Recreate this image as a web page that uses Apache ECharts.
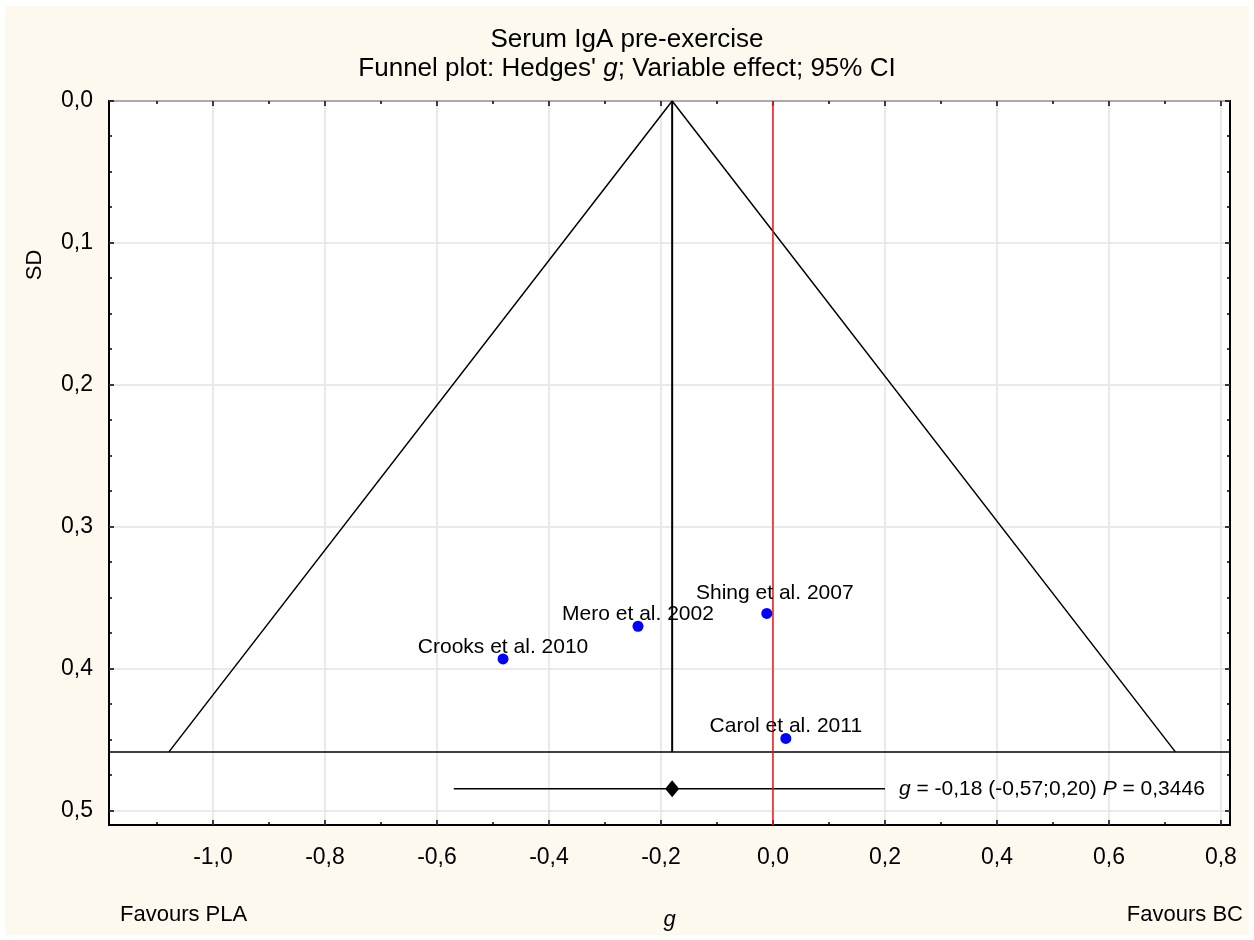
<!DOCTYPE html>
<html>
<head>
<meta charset="utf-8">
<title>Serum IgA pre-exercise – funnel plot</title>
<script src="https://cdn.jsdelivr.net/npm/echarts@6/dist/echarts.min.js"></script>
<style>
  html, body { margin: 0; padding: 0; background: #ffffff; }
  #chart { width: 1254px; height: 940px; }
</style>
</head>
<body>
<div id="chart"></div>
<script>
// Individual studies: effect size (Hedges' g) and its standard error
const studies  = ['Crooks et al. 2010', 'Mero et al. 2002', 'Shing et al. 2007', 'Carol et al. 2011'];
const hedgesG  = [-0.482, -0.241, -0.011, 0.023];
const stdErr   = [0.393, 0.370, 0.361, 0.449];

// Pooled (random-effects) estimate
const pooledG  = -0.18;
const pooledCI = [-0.57, 0.20];
const pooledP  = 0.3446;

// Funnel depth and the row where the pooled estimate is drawn
const funnelSE   = 0.4585;
const summaryRow = 0.4845;

// Axis extents and tick values
const xRange      = [-1.1857, 0.8162];
const yRange      = [0, 0.51];
const xTicksMajor = [-1.0, -0.8, -0.6, -0.4, -0.2, 0.0, 0.2, 0.4, 0.6, 0.8];
const xTicksMinor = [-1.1, -0.9, -0.7, -0.5, -0.3, -0.1, 0.1, 0.3, 0.5, 0.7];
const yTicksMajor = [0.0, 0.1, 0.2, 0.3, 0.4, 0.5];
const yTicksMinor = [0.025, 0.05, 0.075, 0.125, 0.15, 0.175, 0.225, 0.25, 0.275,
                     0.325, 0.35, 0.375, 0.425, 0.45, 0.475];

const FONT = "'Liberation Sans', Arial, sans-serif";
const Z95 = 1.96;

const fmt = (v, d) => v.toFixed(d).replace('.', ',');

// Label nudges so neighbouring study names do not collide
const labelNudge = { 'Shing et al. 2007': [8, -20] };

const chart = echarts.init(document.getElementById('chart'), null, { renderer: 'canvas' });

// Grid lines and inward tick marks on all four sides of the plot box
function renderFrame(params, api) {
  const cs = params.coordSys;
  const left = cs.x, top = cs.y, right = cs.x + cs.width, bottom = cs.y + cs.height;
  const children = [];
  const gridStyle = { stroke: '#e3e3e3', lineWidth: 1.5 };
  const tickStyle = { stroke: '#000000', lineWidth: 1.5 };
  const seg = (x1, y1, x2, y2, style) =>
    children.push({ type: 'line', shape: { x1, y1, x2, y2 }, style });

  xTicksMajor.forEach(v => {
    const x = Math.round(api.coord([v, 0])[0]);
    seg(x, top, x, bottom, gridStyle);
  });
  yTicksMajor.forEach(v => {
    const y = Math.round(api.coord([0, v])[1]);
    seg(left, y, right, y, gridStyle);
  });
  xTicksMajor.forEach(v => {
    const x = Math.round(api.coord([v, 0])[0]);
    seg(x, top, x, top + 5, tickStyle);
    seg(x, bottom, x, bottom - 5, tickStyle);
  });
  xTicksMinor.forEach(v => {
    const x = Math.round(api.coord([v, 0])[0]);
    seg(x, top, x, top + 3, tickStyle);
    seg(x, bottom, x, bottom - 3, tickStyle);
  });
  yTicksMajor.forEach(v => {
    const y = Math.round(api.coord([0, v])[1]);
    seg(left, y, left + 5, y, tickStyle);
    seg(right, y, right - 5, y, tickStyle);
  });
  yTicksMinor.forEach(v => {
    const y = Math.round(api.coord([0, v])[1]);
    seg(left, y, left + 3, y, tickStyle);
    seg(right, y, right - 3, y, tickStyle);
  });
  return { type: 'group', children };
}

const studyPoints = studies.map((name, i) => ({
  name,
  value: [hedgesG[i], stdErr[i]],
  label: { offset: labelNudge[name] || [0, -12] }
}));

const funnelHalf = Z95 * funnelSE;

const option = {
  backgroundColor: '#ffffff',
  animation: false,
  textStyle: { fontFamily: FONT },
  title: {
    left: 'center',
    top: 25,
    padding: 0,
    text: "{t|Serum IgA pre-exercise}\n{t|Funnel plot: Hedges' }{ti|g}{t|; Variable effect; 95% CI}",
    textStyle: {
      fontWeight: 'normal',
      rich: {
        t:  { fontFamily: FONT, fontSize: 26, color: '#000', lineHeight: 29, fontWeight: 'normal' },
        ti: { fontFamily: FONT, fontSize: 26, color: '#000', lineHeight: 29, fontWeight: 'normal', fontStyle: 'italic' }
      }
    }
  },
  graphic: [
    {
      type: 'rect', z: -10, silent: true,
      shape: { x: 5, y: 6, width: 1244, height: 929 },
      style: { fill: '#fdf9ee' }
    },
    {
      type: 'text', silent: true, x: 35, y: 265, rotation: Math.PI / 2,
      style: { text: 'SD', font: "22px 'Liberation Sans', Arial, sans-serif",
               fill: '#000', align: 'center', verticalAlign: 'middle' }
    },
    {
      type: 'text', silent: true, x: 120, y: 915,
      style: { text: 'Favours PLA', font: "22px 'Liberation Sans', Arial, sans-serif",
               fill: '#000', align: 'left', verticalAlign: 'middle' }
    },
    {
      type: 'text', silent: true, x: 1243, y: 915,
      style: { text: 'Favours BC', font: "22px 'Liberation Sans', Arial, sans-serif",
               fill: '#000', align: 'right', verticalAlign: 'middle' }
    }
  ],
  grid: {
    left: 109, top: 101, right: 24, bottom: 115,
    show: true, backgroundColor: '#ffffff', borderColor: '#000000', borderWidth: 2
  },
  xAxis: {
    type: 'value',
    min: xRange[0], max: xRange[1],
    name: 'g',
    nameLocation: 'middle',
    nameGap: 84,
    nameTextStyle: { fontFamily: FONT, fontSize: 22, fontStyle: 'italic', color: '#000' },
    axisLine: { show: false },
    axisTick: { show: false },
    splitLine: { show: false },
    axisLabel: {
      customValues: xTicksMajor,
      formatter: v => fmt(v, 1),
      fontFamily: FONT, fontSize: 23, color: '#000', margin: 21
    }
  },
  yAxis: {
    type: 'value',
    inverse: true,
    min: yRange[0], max: yRange[1],
    axisLine: { show: false },
    axisTick: { show: false },
    splitLine: { show: false },
    axisLabel: {
      customValues: yTicksMajor,
      formatter: v => fmt(v, 1),
      fontFamily: FONT, fontSize: 23, color: '#000', margin: 16
    }
  },
  series: [
    {
      type: 'custom', name: 'frame', silent: true, z: 1,
      coordinateSystem: 'cartesian2d',
      renderItem: renderFrame,
      data: [[0, 0]]
    },
    {
      type: 'line', name: 'funnel', z: 3, silent: true,
      showSymbol: false, symbol: 'none',
      lineStyle: { color: '#000', width: 1.5 },
      data: [[pooledG - funnelHalf, funnelSE], [pooledG, 0], [pooledG + funnelHalf, funnelSE]]
    },
    {
      type: 'line', name: 'pooled', z: 3, silent: true, symbol: 'none',
      lineStyle: { color: '#000', width: 2 },
      data: [[pooledG, 0], [pooledG, funnelSE]]
    },
    {
      type: 'line', name: 'base', z: 3, silent: true, symbol: 'none',
      lineStyle: { color: '#000', width: 1.5 },
      data: [[xRange[0], funnelSE], [xRange[1], funnelSE]]
    },
    {
      type: 'line', name: 'no effect', z: 4, silent: true, symbol: 'none',
      lineStyle: { color: '#f01818', width: 1.5 },
      data: [[0, yRange[0]], [0, yRange[1]]]
    },
    {
      type: 'line', name: 'pooled CI', z: 3, silent: true, symbol: 'none',
      lineStyle: { color: '#000', width: 1.5 },
      data: [[pooledCI[0], summaryRow], [pooledCI[1], summaryRow]]
    },
    {
      type: 'scatter', name: 'pooled estimate', z: 5, silent: true,
      symbol: 'diamond', symbolSize: [14, 17],
      itemStyle: { color: '#000', opacity: 1 },
      data: [[pooledG, summaryRow]]
    },
    {
      type: 'scatter', name: 'summary text', z: 5, silent: true,
      symbolSize: 0,
      itemStyle: { opacity: 1 },
      data: [[pooledCI[1], summaryRow]],
      label: {
        show: true, position: 'right', distance: 14,
        formatter: () => `{i|g}{n| = ${fmt(pooledG, 2)} (${fmt(pooledCI[0], 2)};${fmt(pooledCI[1], 2)}) }{i|P}{n| = ${fmt(pooledP, 4)}}`,
        rich: {
          n: { fontFamily: FONT, fontSize: 21, color: '#000' },
          i: { fontFamily: FONT, fontSize: 21, color: '#000', fontStyle: 'italic' }
        }
      }
    },
    {
      type: 'scatter', name: 'studies', z: 6, silent: true,
      symbol: 'circle', symbolSize: 11,
      itemStyle: { color: '#0000ff', opacity: 1 },
      data: studyPoints,
      label: {
        show: true, position: 'inside', formatter: '{b}',
        fontFamily: FONT, fontSize: 21, color: '#000'
      }
    }
  ]
};

chart.setOption(option);
</script>
</body>
</html>
